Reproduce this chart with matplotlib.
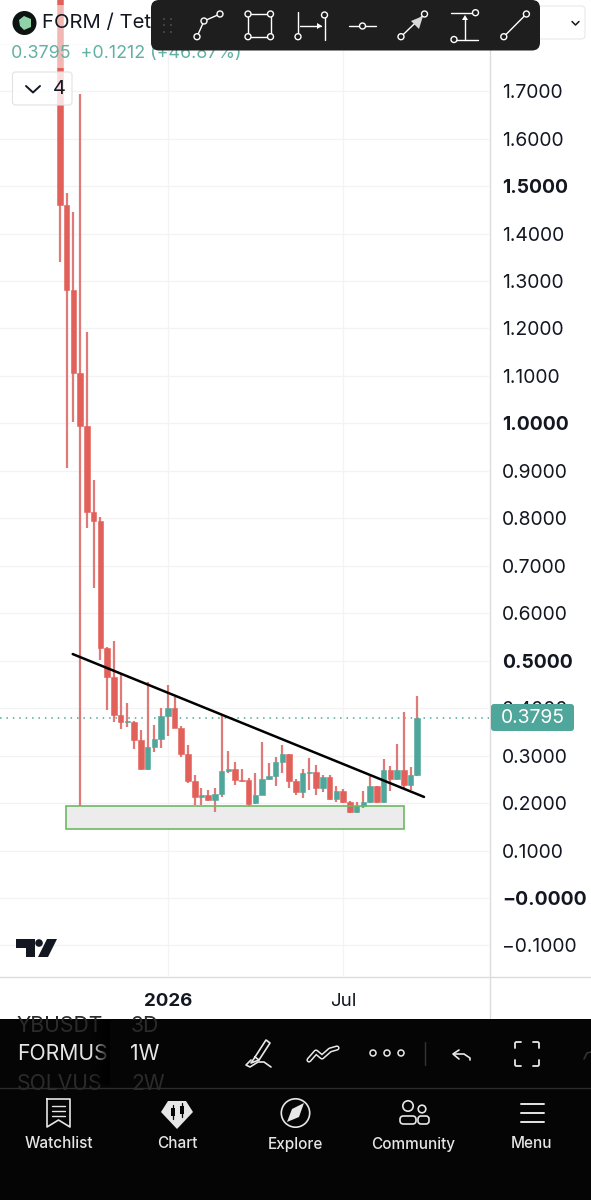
import numpy as np
import matplotlib
matplotlib.use('Agg')
import matplotlib.pyplot as plt
from matplotlib.patches import Rectangle, FancyBboxPatch, Circle, Polygon

plt.rcParams['font.family'] = ['Inter', 'DejaVu Sans']

# weekly candles
opens = [1.95, 1.460, 1.281, 1.106, .995, .813, .794, .527, .466, .386,
         .371, .371, .333, .272, .319, .335, .383, .400, .359, .303,
         .247, .213, .217, .206, .219, .268, .271, .249, .249, .200,
         .217, .251, .258, .287, .303, .247, .223, .264, .265, .232,
         .255, .209, .225, .203, .181, .194, .202, .235, .202, .270,
         .251, .270, .238, .259]
highs = [2.0, 1.485, 1.445, 1.694, 1.193, .881, .803, .529, .541, .474,
         .411, .373, .354, .455, .365, .401, .449, .424, .362, .322,
         .259, .232, .228, .232, .388, .310, .287, .272, .253, .264,
         .329, .284, .297, .322, .304, .251, .272, .295, .280, .259,
         .259, .237, .230, .205, .203, .226, .258, .236, .293, .279,
         .324, .392, .276, .426]
lows = [1.340, .906, 1.003, .194, .780, .653, .501, .396, .371, .356,
        .360, .314, .270, .270, .308, .317, .341, .358, .297, .243,
        .196, .196, .204, .182, .213, .263, .238, .244, .194, .198,
        .216, .249, .235, .264, .232, .217, .211, .228, .216, .224,
        .206, .203, .201, .179, .179, .190, .200, .200, .201, .226,
        .249, .232, .228, .257]
closes = [1.460, 1.281, 1.106, .995, .813, .794, .527, .466, .386, .371,
          .372, .333, .272, .319, .335, .383, .400, .359, .303, .247,
          .213, .217, .206, .219, .268, .271, .249, .247, .198, .217,
          .251, .258, .287, .303, .247, .223, .264, .265, .232, .255,
          .209, .225, .202, .181, .194, .202, .235, .202, .270, .251,
          .270, .238, .259, .3795]

price_ticks = [-0.1, 0.0, 0.1, 0.2, 0.3, 0.4, 0.5, 0.6, 0.7, 0.8, 0.9,
               1.0, 1.1, 1.2, 1.3, 1.4, 1.5, 1.6, 1.7, 1.8]
price_labels = ['\u22120.1000', '\u22120.0000', '0.1000', '0.2000', '0.3000', '0.4000',
                '0.5000', '0.6000', '0.7000', '0.8000', '0.9000', '1.0000', '1.1000',
                '1.2000', '1.3000', '1.4000', '1.5000', '1.6000', '1.7000', '']
bold_ticks = [0.0, 0.5, 1.0, 1.5]
time_ticks = [16, 42]
time_labels = ['2026', 'Jul']

trend_x = [1.9, 54.0]
trend_y = [0.514, 0.213]
zone_x = [0.95, 51.05]
zone_y = [0.145, 0.194]

nav_labels = ['Watchlist', 'Chart', 'Explore', 'Community', 'Menu']
nav_centers = [58.5, 177, 295.5, 413.6, 532]

RED = '#e2605a'
RED_WICK = '#df7a78'
TEAL = '#4fa69a'
GRID = '#f3f3f3'
EDGE = '#dcdcdc'
W, H = 591, 1200

fig = plt.figure(figsize=(W / 100, H / 100), dpi=100, facecolor='white')

# chart area, pixel edges x 0-489, y 0-976
ax = fig.add_axes([0, 1 - 976 / H, 489 / W, 976 / H])
ax.set_xlim(-8.883, 63.64)
ax.set_ylim(-0.1643, 1.892)
for s in ax.spines.values():
    s.set_visible(False)
ax.set_axisbelow(True)
ax.grid(True, color=GRID, lw=0.9)

ax.yaxis.tick_right()
ax.set_yticks(price_ticks)
ax.set_yticklabels(price_labels)
for p, lab in zip(price_ticks, ax.get_yticklabels()):
    lab.set_fontsize(13.9)
    lab.set_color('#131722')
    if p in bold_ticks:
        lab.set_fontweight('bold')
ax.tick_params(axis='y', length=0, pad=9.5)
ax.set_xticks(time_ticks)
ax.set_xticklabels(time_labels, fontsize=13.5)
ax.get_xticklabels()[0].set_fontweight('bold')
ax.tick_params(axis='x', length=0, pad=12, labelcolor='#131722')

# candles
xs = np.arange(len(opens))
o, h, l, c = map(np.array, (opens, highs, lows, closes))
up = c >= o
ax.vlines(xs, l, h, color=RED_WICK, lw=1.6, zorder=2)
body_cols = [TEAL if u else RED for u in up]
ax.bar(xs, np.abs(c - o), bottom=np.minimum(o, c), width=0.82, color=body_cols,
       edgecolor=body_cols, lw=0.4, zorder=3)

# drawings
ax.fill_between(zone_x, zone_y[0], zone_y[1], facecolor='#ececec', edgecolor='none', zorder=1)
ax.add_patch(Rectangle((zone_x[0], zone_y[0]), zone_x[1] - zone_x[0], zone_y[1] - zone_y[0],
                       fill=False, edgecolor='#6db866', lw=1.2, zorder=4))
ax.plot(trend_x, trend_y, color='black', lw=1.8, zorder=5, solid_capstyle='round')
ax.axhline(closes[-1], color=TEAL, lw=1.1, ls=(0, (1, 3.2)), zorder=1.5)

# everything else is app chrome, drawn in pixel coords on top
ui = fig.add_axes([0, 0, 1, 1], facecolor='none')
ui.set_xlim(0, W)
ui.set_ylim(H, 0)
ui.axis('off')


def line(xs_, ys_, color='white', lw=1.0, z=20):
    ui.plot(xs_, ys_, color=color, lw=lw, zorder=z, solid_capstyle='round',
            solid_joinstyle='round')


def ring(x, y, r=3.0, color='white', face='#1e1e1e', lw=1.0, z=21):
    ui.add_patch(Circle((x, y), r, facecolor=face, edgecolor=color, lw=lw, zorder=z))


def rbox(x0, y0, x1, y1, rad, **kw):
    ui.add_patch(FancyBboxPatch((x0 + rad, y0 + rad), x1 - x0 - 2 * rad, y1 - y0 - 2 * rad,
                                boxstyle=f'round,pad={rad},rounding_size={rad}', **kw))


# axes borders
line([489.5, 489.5], [0, 1019], color=EDGE, lw=1.0, z=6)
line([0, W], [976.5, 976.5], color=EDGE, lw=1.0, z=6)

# header
ui.add_patch(Rectangle((0, 5), 150, 63, facecolor='white', alpha=0.55, zorder=7))
ui.add_patch(Circle((24.5, 23), 12, facecolor='#0d1512', zorder=8))
ui.add_patch(Polygon([[19, 20], [24, 16], [31, 19], [31, 27], [24, 30], [20, 26]],
                     facecolor='#8fd3a8', zorder=9))
ui.text(42, 23.5, 'FORM / Tet', fontsize=14.6, color='#131722', va='center', zorder=9)
ui.text(11, 54, f'{closes[-1]:.4f}  +0.1212 (+46.87%)', fontsize=12.9, color='#62b0a3',
        va='center', zorder=9)
rbox(12.5, 72, 72, 105, 3, facecolor=(1, 1, 1, 0.8), edgecolor='#e2e2e2', lw=0.8, zorder=9)
line([26, 33, 40], [86, 92.5, 86], color='#131722', lw=1.4, z=10)
ui.text(59, 88.5, '4', fontsize=14.5, color='#131722', ha='center', va='center', zorder=10)
rbox(500, 6, 585, 39, 4, facecolor='white', edgecolor='#e8e8e8', lw=0.8, zorder=9)
line([572, 575.5, 579], [21.5, 25, 21.5], color='#131722', lw=1.1, z=10)

# drawing toolbar
rbox(151, 0, 540, 50.5, 8, facecolor='#1e1e1e', edgecolor='none', zorder=15)
for gx in (164, 171):
    for gy in (19, 25, 32):
        ui.add_patch(Circle((gx, gy), 0.9, facecolor='#555555', zorder=20))
# polyline
line([197, 204, 220], [36.7, 21, 14])
ring(197, 36.7); ring(204, 21); ring(220, 14)
# rectangle
line([248, 270.5, 270.5, 248, 248], [14, 14, 36.7, 36.7, 14])
for px, py in ((248, 14), (270.5, 14), (248, 36.7), (270.5, 36.7)):
    ring(px, py)
# date range
line([298, 298], [12, 36.7]); line([324.5, 324.5], [15, 40])
line([300, 321], [26, 26])
ui.add_patch(Polygon([[322, 26], [317, 23], [317, 29]], facecolor='white', zorder=20))
ring(298, 36.7); ring(324.5, 15)
# horizontal ray
line([349, 376], [26, 26]); ring(362.5, 26)
# arrow
line([401, 424.5], [36.7, 14])
ui.add_patch(Polygon([[423, 16], [411, 21], [419, 29]], facecolor='#d8d8d8', zorder=20))
ring(401, 36.7); ring(424.5, 14)
# price range
line([451, 476], [12.7, 12.7]); line([451, 478], [39.5, 39.5])
line([465, 465], [39.5, 18])
ui.add_patch(Polygon([[465, 15], [462, 20], [468, 20]], facecolor='white', zorder=20))
ring(475.5, 12.7); ring(454, 39.5)
# trend line
line([503.8, 526.4], [36.7, 14]); ring(503.8, 36.7); ring(526.4, 14)

# last price tag
rbox(491, 704, 574, 731, 3, facecolor=TEAL, edgecolor='none', zorder=7)
ui.text(532.5, 718, f'{closes[-1]:.4f}', fontsize=13.9, color='white', ha='center',
        va='center', zorder=8)

# tradingview logo
ui.add_patch(Polygon([[16, 939], [35, 939], [35, 957], [26, 957], [26, 948], [16, 948]],
                     facecolor='#131722', zorder=7))
ui.add_patch(Circle((39, 943), 3.8, facecolor='#131722', zorder=7))
ui.add_patch(Polygon([[47, 939], [57, 939], [48, 957], [38, 957]], facecolor='#131722', zorder=7))

# bottom panel
ui.add_patch(Rectangle((0, 1019), W, 181, facecolor='#050505', zorder=10))
clip = Rectangle((0, 1019), W, 69, transform=ui.transData)
for x_, y_, txt, col in [(17, 1026, 'YBUSDT', '#2b2b2b'), (131, 1026, '3D', '#2b2b2b'),
                         (17, 1054, 'FORMUS', '#e6e6e6'), (130, 1054, '1W', '#e6e6e6'),
                         (17, 1084, 'SOLVUS', '#2b2b2b'), (131, 1084, '2W', '#2b2b2b')]:
    t = ui.text(x_, y_, txt, fontsize=15.2, color=col, va='center', zorder=11)
    t.set_clip_path(clip)
grad = np.zeros((1, 24, 4))
grad[..., 3] = np.linspace(0, 1, 24)
ui.imshow(grad, extent=(92, 110, 1085, 1020), aspect='auto', zorder=12)
ui.set_xlim(0, W)
ui.set_ylim(H, 0)
line([0, W], [1088, 1088], color='#2c2c2c', lw=1.0, z=12)

# chart action row
line([255, 266, 270, 259, 255], [1057, 1040, 1043, 1060, 1057], color='#e8e8e8', lw=1.2, z=13)
line([255, 251, 259], [1057, 1063, 1060], color='#e8e8e8', lw=1.2, z=13)
line([251, 246, 250, 258, 264, 271], [1060, 1065, 1067, 1062, 1062, 1067], color='#e8e8e8', lw=1.2, z=13)
line([309, 316, 322, 330, 337], [1060, 1052, 1057, 1050, 1048], color='#e8e8e8', lw=3.8, z=13)
line([309, 316, 322, 330, 337], [1060, 1052, 1057, 1050, 1048], color='#050505', lw=1.6, z=14)
for cx in (373, 387, 401):
    ring(cx, 1053, r=3, color='#e8e8e8', face='#050505', lw=1.1, z=13)
line([425, 425], [1042, 1065], color='#333333', lw=1.0, z=13)
line([459, 453, 459], [1050, 1054, 1059], color='#e8e8e8', lw=1.2, z=13)
line([454, 464, 470, 470], [1054, 1054, 1058, 1060], color='#e8e8e8', lw=1.2, z=13)
for cx, sx in ((515, 1), (539, -1)):
    for cy, sy in ((1042, 1), (1066, -1)):
        line([cx + sx * 6, cx + sx * 1, cx, cx], [cy, cy, cy + sy * 1, cy + sy * 6],
             color='#e8e8e8', lw=1.3, z=13)
line([584, 587, 591], [1059, 1053, 1052], color='#333333', lw=1.2, z=13)

# nav bar icons
ui.plot([47, 70, 70, 58.5, 47, 47], [1099, 1099, 1127, 1120, 1127, 1099], color='#e6e6e6', lw=1.2, zorder=13)
for ly in (1106, 1111, 1116):
    line([52, 65], [ly, ly], color='#e6e6e6', lw=1.0, z=13)
ui.add_patch(Polygon([[168, 1101], [186, 1101], [193, 1112], [177, 1129], [161, 1112]],
                     facecolor='#e6e6e6', zorder=13))
for cx, cy in ((173, 1112), (182, 1110)):
    ui.add_patch(Rectangle((cx - 1.8, cy - 4), 3.6, 8, facecolor='#050505', zorder=14))
    line([cx, cx], [cy - 7, cy + 7], color='#050505', lw=0.9, z=14)
ui.add_patch(Circle((295.5, 1113), 14.2, facecolor='none', edgecolor='#e6e6e6', lw=1.2, zorder=13))
ui.add_patch(Polygon([[304, 1103], [299, 1117], [287, 1122], [292, 1109]], facecolor='#e6e6e6', zorder=13))
ring(408, 1106, r=5.2, color='#e6e6e6', face='#050505', lw=1.2, z=13)
ring(422, 1109, r=3.8, color='#e6e6e6', face='#050505', lw=1.2, z=13)
rbox(400, 1116, 416, 1124, 3.5, facecolor='#050505', edgecolor='#e6e6e6', lw=1.2, zorder=13)
rbox(418, 1116, 429, 1124, 3, facecolor='#050505', edgecolor='#e6e6e6', lw=1.2, zorder=13)
for ly in (1104, 1113, 1121.5):
    line([520.5, 544], [ly, ly], color='#e6e6e6', lw=1.4, z=13)
for x_, lab in zip(nav_centers, nav_labels):
    ui.text(x_, 1144, lab, fontsize=11, color='#e6e6e6', ha='center', va='center',
            fontweight='medium', zorder=13)

fig.savefig('out.png', dpi=100, facecolor='white')
